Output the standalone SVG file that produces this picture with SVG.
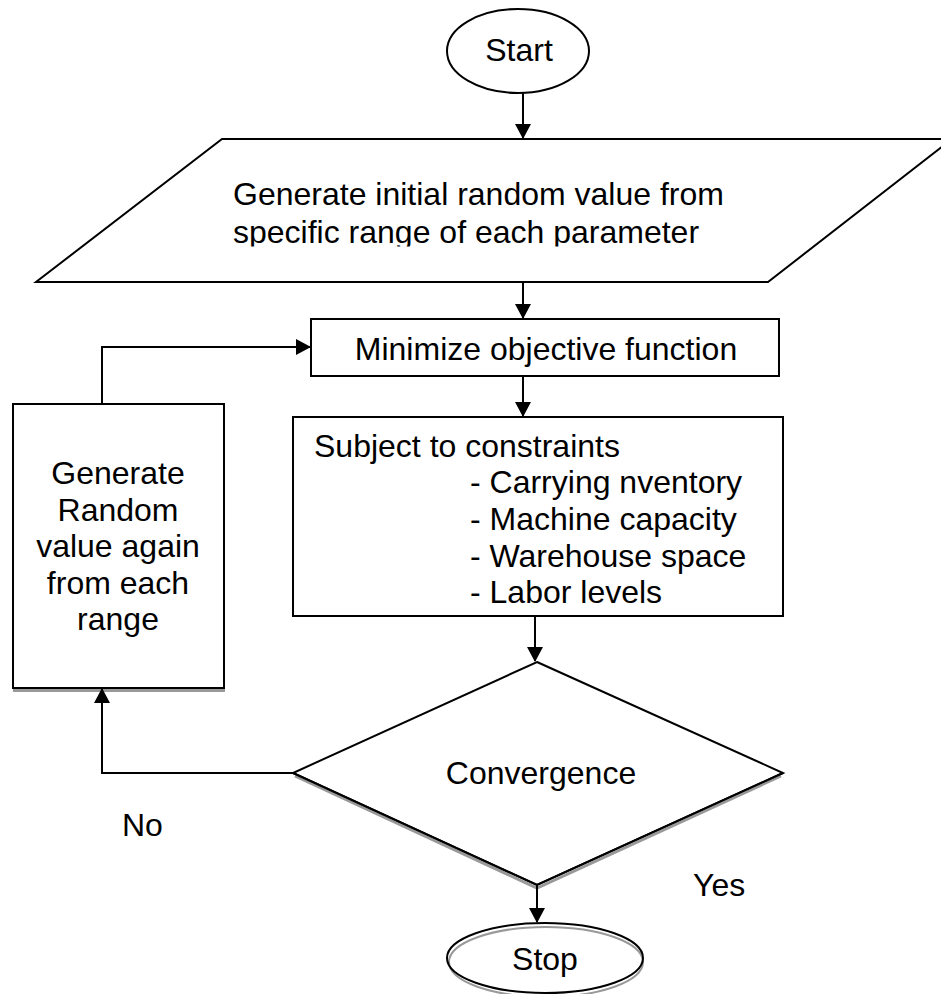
<svg xmlns="http://www.w3.org/2000/svg" width="941" height="994" viewBox="0 0 941 994">
<style>
.shape{fill:#fff;stroke:#000;stroke-width:2}
.line{fill:none;stroke:#000;stroke-width:2}
.shadow{fill:none;stroke:#999;stroke-width:3}
text{font-family:"Liberation Sans",Arial,sans-serif;font-size:32px;fill:#000}
.c{text-anchor:middle}
</style>
<defs>
<marker id="arr" markerUnits="userSpaceOnUse" markerWidth="15" markerHeight="16" refX="14" refY="8" orient="auto">
<path d="M0,0 L15,8 L0,16 z" fill="#000"/>
</marker>
<clipPath id="clipPar"><rect x="0" y="130" width="941" height="116.5"/></clipPath>
</defs>
<rect width="941" height="994" fill="#fff"/>
<g id="start">
<ellipse class="shape" cx="518" cy="51" rx="71" ry="42"/>
<text class="c" x="519" y="61">Start</text>
</g>
<g id="generate-initial">
<polygon class="shape" points="222,139 952,139 768,282 36,282"/>
<g clip-path="url(#clipPar)">
<text x="233" y="205">Generate initial random value from</text>
<text x="233" y="243">specific range of each parameter</text>
</g>
</g>
<g id="minimize">
<rect class="shape" x="311" y="319" width="468" height="57"/>
<text class="c" x="546" y="360">Minimize objective function</text>
</g>
<g id="constraints">
<rect class="shape" x="293" y="417" width="490" height="199"/>
<text x="314" y="457">Subject to constraints</text>
<text x="470" y="493">- Carrying nventory</text>
<text x="470" y="530">- Machine capacity</text>
<text x="470" y="567">- Warehouse space</text>
<text x="470" y="603">- Labor levels</text>
</g>
<g id="regenerate">
<line class="shadow" x1="13" y1="690.5" x2="225" y2="690.5"/>
<rect class="shape" x="13" y="404" width="211" height="284"/>
<text class="c" x="118" y="484">Generate</text>
<text class="c" x="118" y="521">Random</text>
<text class="c" x="118" y="557">value again</text>
<text class="c" x="118" y="594">from each</text>
<text class="c" x="118" y="630">range</text>
</g>
<g id="convergence">
<polygon class="shape" points="537,662 783,773 537,885 293,773"/>
<polyline class="shadow" points="295,776 537,888 781,776"/>
<polyline class="line" points="293,773 537,885 783,773"/>
<text class="c" x="541" y="784">Convergence</text>
</g>
<g id="stop">
<ellipse cx="546" cy="962" rx="97" ry="35" fill="none" stroke="#999" stroke-width="2"/>
<ellipse cx="545" cy="958" rx="98" ry="35" fill="none" stroke="#000" stroke-width="2"/>
<text class="c" x="545" y="970">Stop</text>
</g>
<g id="labels">
<text x="122" y="836">No</text>
<text x="693" y="896">Yes</text>
</g>
<g id="connectors">
<line class="line" x1="523" y1="93" x2="523" y2="138" marker-end="url(#arr)"/>
<line class="line" x1="523" y1="282" x2="523" y2="318" marker-end="url(#arr)"/>
<line class="line" x1="523" y1="376" x2="523" y2="416" marker-end="url(#arr)"/>
<line class="line" x1="535" y1="616" x2="535" y2="661" marker-end="url(#arr)"/>
<line class="line" x1="537" y1="885" x2="537" y2="922" marker-end="url(#arr)"/>
<polyline class="line" points="102,404 102,347 310,347" marker-end="url(#arr)"/>
<polyline class="line" points="293,773 102,773 102,689" marker-end="url(#arr)"/>
</g>
</svg>
